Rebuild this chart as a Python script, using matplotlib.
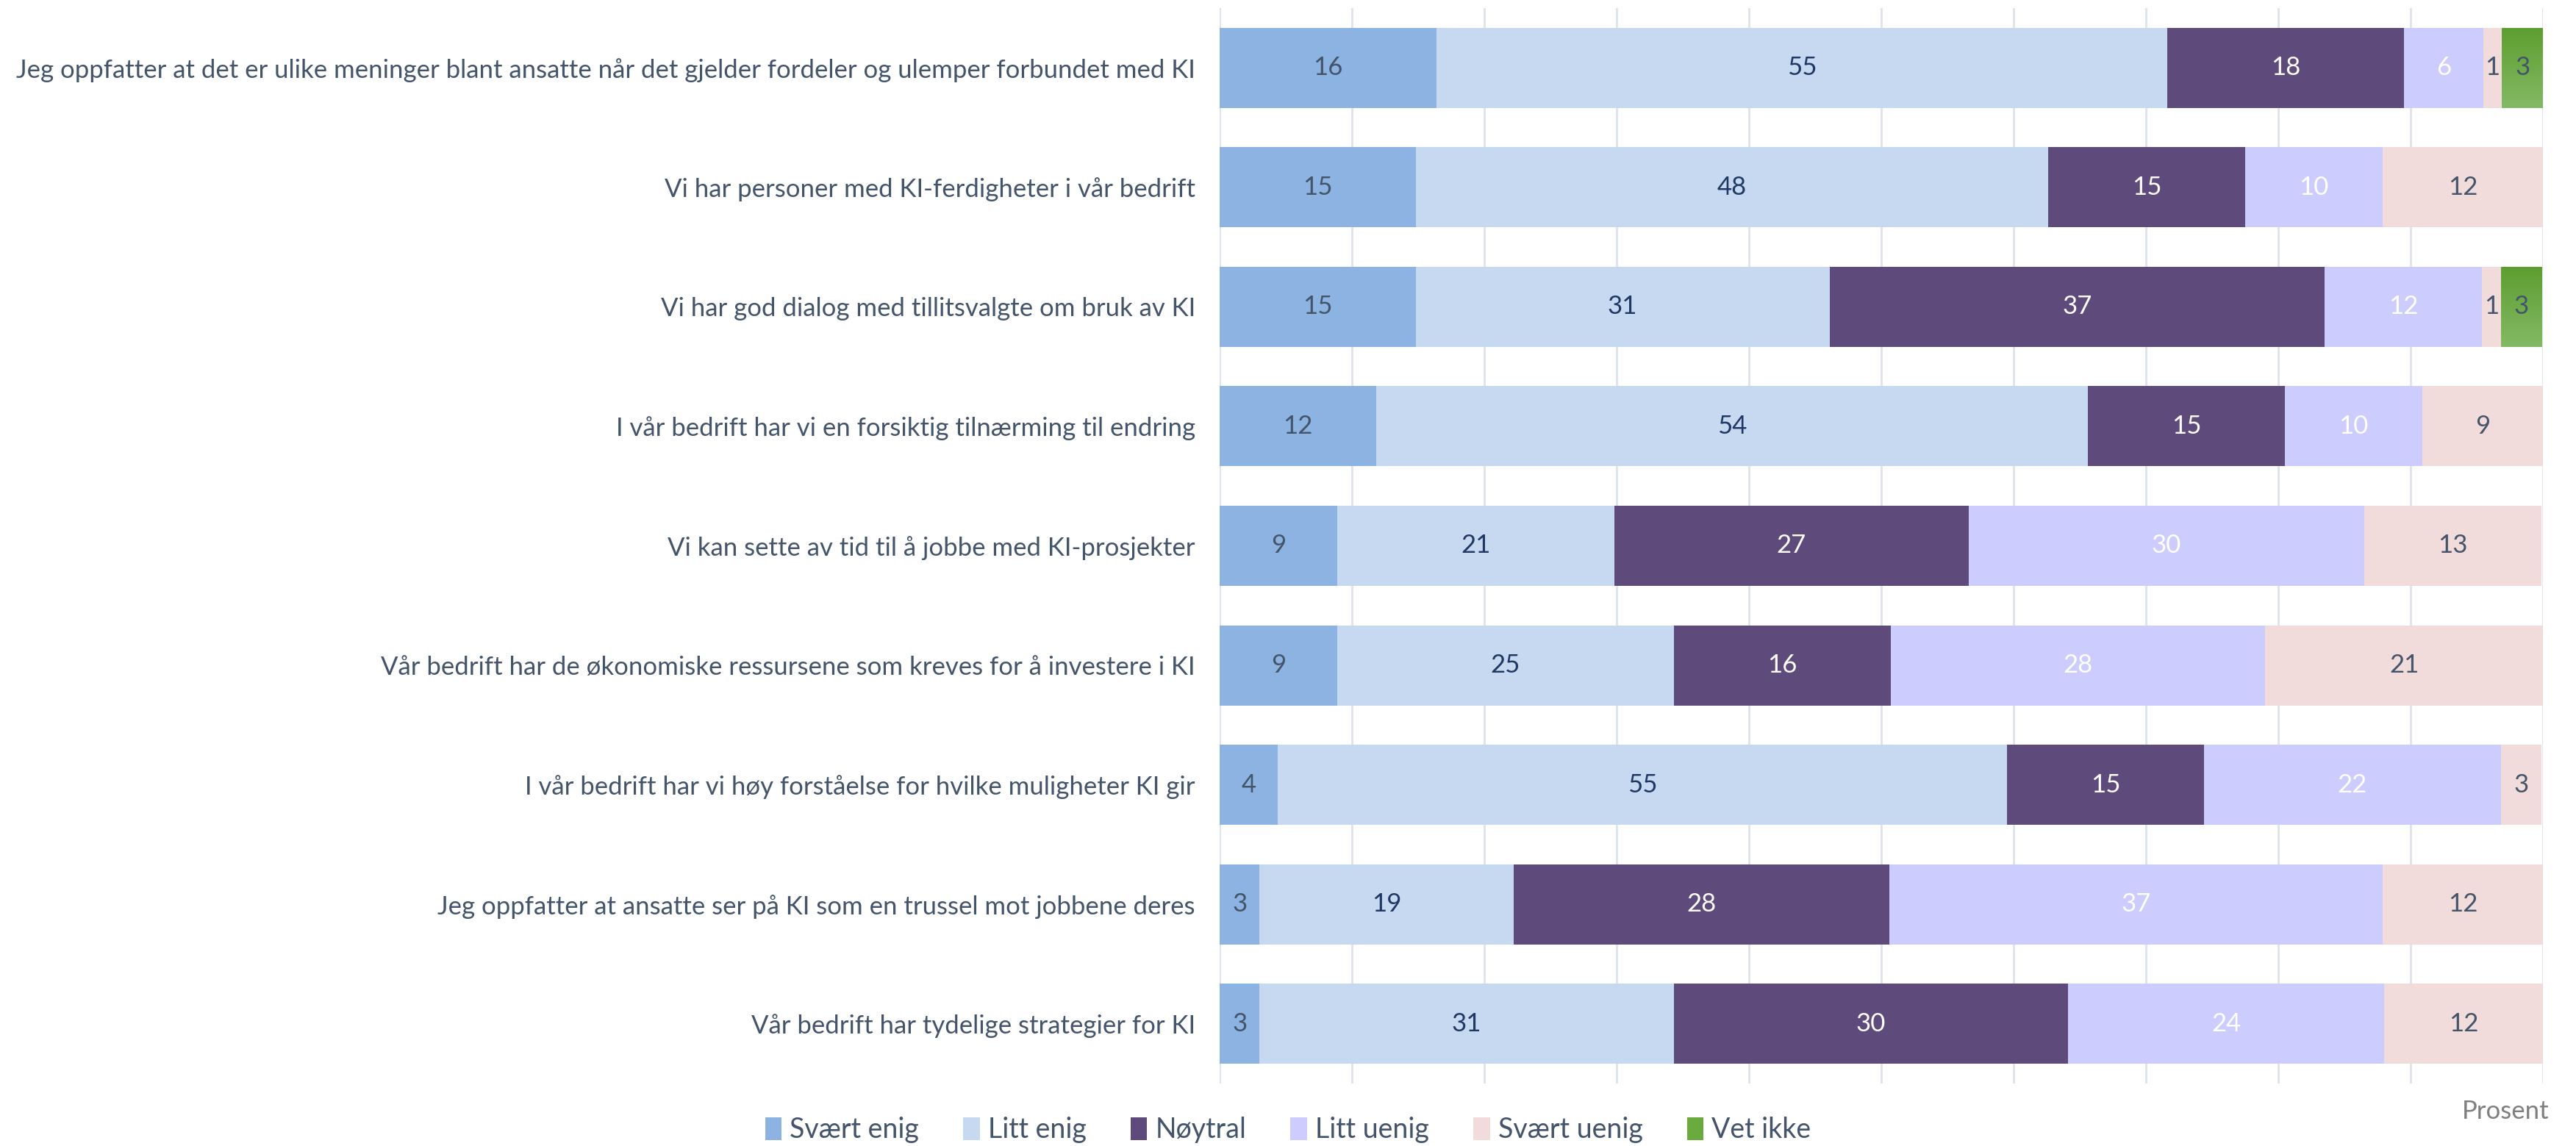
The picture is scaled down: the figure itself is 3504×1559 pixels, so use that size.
import matplotlib
matplotlib.use("Agg")
import matplotlib.pyplot as plt
from matplotlib.patches import Patch
from matplotlib.colors import LinearSegmentedColormap
import numpy as np

categories = [
    "Jeg oppfatter at det er ulike meninger blant ansatte når det gjelder fordeler og ulemper forbundet med KI",
    "Vi har personer med KI-ferdigheter i vår bedrift",
    "Vi har god dialog med tillitsvalgte om bruk av KI",
    "I vår bedrift har vi en forsiktig tilnærming til endring",
    "Vi kan sette av tid til å jobbe med KI-prosjekter",
    "Vår bedrift har de økonomiske ressursene som kreves for å investere i KI",
    "I vår bedrift har vi høy forståelse for hvilke muligheter KI gir",
    "Jeg oppfatter at ansatte ser på KI som en trussel mot jobbene deres",
    "Vår bedrift har tydelige strategier for KI",
]
series_names = ["Svært enig", "Litt enig", "Nøytral", "Litt uenig", "Svært uenig", "Vet ikke"]
svaert_enig = [16.4, 14.8, 14.8, 11.8, 8.9, 8.9, 4.4, 3.0, 3.0]
litt_enig = [55.2, 47.8, 31.3, 53.8, 20.9, 25.4, 55.1, 19.2, 31.3]
noytral = [17.9, 14.9, 37.4, 14.9, 26.8, 16.4, 14.9, 28.4, 29.8]
litt_uenig = [6.0, 10.4, 11.9, 10.4, 29.9, 28.3, 22.4, 37.3, 23.9]
svaert_uenig = [1.4, 12.1, 1.4, 9.1, 13.4, 21.0, 3.1, 12.1, 12.0]
vet_ikke = [3.1, 0, 3.1, 0, 0, 0, 0, 0, 0]

series = [svaert_enig, litt_enig, noytral, litt_uenig, svaert_uenig, vet_ikke]
colors = ["#8db3e2", "#c6d9f1", "#5f4b7b", "#ccccff", "#f2dcdb", "#6aab3d"]
text_colors = ["#44546a", "#1f3864", "white", "white", "#44546a", "#44546a"]
green_grad = LinearSegmentedColormap.from_list("g", ["#83b965", "#5e9e30"])

plt.rcParams['font.family'] = ['Lato', 'DejaVu Sans']
LABEL_COLOR = "#44546a"
FS = 25

fig = plt.figure(figsize=(35.04, 15.59), dpi=100)
ax = fig.add_axes([0.4735, 0.0545, 0.5137, 0.9385])

y = np.arange(len(categories))
left = np.zeros(len(categories))
for i, (vals, col, tcol, name) in enumerate(zip(series, colors, text_colors, series_names)):
    vals = np.array(vals, dtype=float)
    bars = ax.barh(y, vals, left=left, height=0.67, color=col, label=name, zorder=2)
    for b, v in zip(bars, vals):
        if v > 0:
            if name == "Vet ikke":
                x0, y0, w, h = b.get_x(), b.get_y(), b.get_width(), b.get_height()
                grad = np.linspace(0, 1, 64).reshape(-1, 1)
                im = ax.imshow(grad, cmap=green_grad, aspect="auto",
                               extent=(x0, x0 + w, y0, y0 + h), origin="upper", zorder=2.1)
                im.set_clip_path(b)
            ax.text(b.get_x() + b.get_width() / 2, b.get_y() + b.get_height() / 2,
                    f"{v:.0f}", ha="center", va="center", color=tcol,
                    fontsize=FS, zorder=3)
    left += vals

ax.set_xlim(0, 100)
ax.set_ylim(len(categories) - 0.5, -0.5)
ax.set_aspect("auto")
ax.set_xticks(np.arange(0, 101, 10))
ax.set_xticklabels([])
ax.tick_params(axis="x", length=0)
ax.grid(axis="x", color="#dde3ea", linewidth=2, zorder=0)
ax.set_yticks(y)
ax.set_yticklabels(categories, fontsize=FS, color=LABEL_COLOR)
ax.tick_params(axis="y", length=0, pad=24)
for s in ax.spines.values():
    s.set_visible(False)

fig.text(0.9895, 0.030, "Prosent", ha="right", va="center", fontsize=FS, color="#7f7f7f")

handles = [Patch(facecolor=c, edgecolor="none") for c in colors]
leg = fig.legend(handles, series_names, loc="center", bbox_to_anchor=(0.5, 0.014),
                 ncol=6, frameon=False, fontsize=FS + 2, handlelength=0.6, handleheight=0.9,
                 handletextpad=0.3, columnspacing=1.6)
for t in leg.get_texts():
    t.set_color(LABEL_COLOR)

fig.savefig("out.png", dpi=100, facecolor="white")
